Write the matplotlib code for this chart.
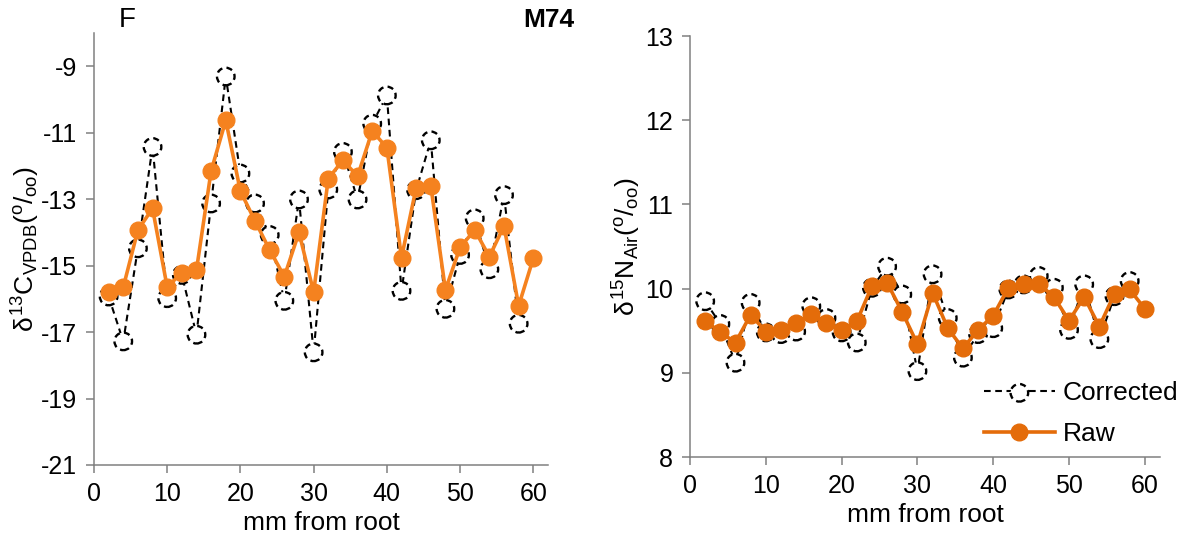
import numpy as np
import matplotlib
matplotlib.use("Agg")
import matplotlib.pyplot as plt
from matplotlib.legend_handler import HandlerTuple
from matplotlib.lines import Line2D

plt.rcParams['font.family'] = ['Liberation Sans', 'DejaVu Sans']
plt.rcParams['mathtext.fontset'] = 'custom'
plt.rcParams['mathtext.rm'] = 'Liberation Sans'
plt.rcParams['mathtext.it'] = 'Liberation Sans'
plt.rcParams['axes.unicode_minus'] = False

# sampling positions along the hair (mm from root)
mm = np.arange(2, 62, 2)

# carbon isotope values
c_raw = [-15.78, -15.65, -13.93, -13.28, -15.65, -15.21, -15.13, -12.15, -10.63, -12.76,
         -13.66, -14.53, -15.33, -14.00, -15.80, -12.38, -11.83, -12.31, -10.95, -11.45,
         -14.76, -12.66, -12.60, -15.73, -14.45, -13.93, -14.73, -13.81, -16.21, -14.78]
c_corr = [-15.93, -17.28, -14.48, -11.43, -15.98, -15.28, -17.08, -13.13, -9.31, -12.23,
          -13.13, -14.08, -16.06, -13.01, -17.61, -12.71, -11.58, -13.01, -10.73, -9.88,
          -15.76, -12.73, -11.23, -16.30, -14.68, -13.58, -15.11, -12.88, -16.75, np.nan]

# nitrogen isotope values
n_raw = [9.62, 9.48, 9.36, 9.69, 9.49, 9.51, 9.59, 9.70, 9.59, 9.51,
         9.61, 10.03, 10.07, 9.72, 9.34, 9.95, 9.53, 9.29, 9.51, 9.68,
         10.01, 10.06, 10.06, 9.90, 9.62, 9.90, 9.55, 9.94, 9.99, 9.76]
n_corr = [9.85, 9.58, 9.12, 9.83, 9.48, 9.46, 9.49, 9.79, 9.65, 9.48,
          9.36, 10.01, 10.26, 9.93, 9.02, 10.17, 9.65, 9.18, 9.46, 9.53,
          9.99, 10.05, 10.15, 10.01, 9.51, 10.05, 9.40, 9.91, 10.09, np.nan]

c_ticks = [-21, -19, -17, -15, -13, -11, -9]
n_ticks = [8, 9, 10, 11, 12, 13]
x_ticks = [0, 10, 20, 30, 40, 50, 60]

fig = plt.figure(figsize=(11.85, 5.39), dpi=100)
ax1 = fig.add_axes([0.0793, 0.1373, 0.3831, 0.8015])
ax2 = fig.add_axes([0.5823, 0.1521, 0.3966, 0.7811])


def draw_panel(ax, raw, corr, orange):
    corr = np.asarray(corr)
    ax.plot(mm, corr, color='black', ls=(0, (3.2, 2.2)), lw=1.5, zorder=2)
    ok = ~np.isnan(corr)
    sc = ax.scatter(mm[ok], corr[ok], s=160, facecolor='white', edgecolor='black',
                    linewidths=1.7, linestyle=(0, (2.6, 1.8)), zorder=3)
    ln, = ax.plot(mm, raw, color=orange, lw=2.6, marker='o', ms=12,
                  mec=orange, mfc=orange, zorder=4)
    ax.set_xlim(0, 62)
    ax.set_xticks(x_ticks)
    ax.set_xlabel('mm from root', fontsize=19, labelpad=4)
    for s in ['top', 'right']:
        ax.spines[s].set_visible(False)
    for s in ['left', 'bottom']:
        ax.spines[s].set_color('#808080')
        ax.spines[s].set_linewidth(1.1)
    ax.tick_params(direction='out', length=6, width=1.1, color='#808080',
                   labelsize=18, pad=6)
    return sc, ln


draw_panel(ax1, c_raw, c_corr, '#F5821F')
ax1.set_ylim(-21, -8)
ax1.set_yticks(c_ticks)
ax1.set_ylabel(r'$\delta^{13}\mathrm{C}_{\mathrm{VPDB}}(^{\mathrm{o}}/_{\mathrm{oo}})$',
               fontsize=19, labelpad=-1)
fig.text(127 / 1185, 1 - 20 / 539, 'F', fontsize=20, ha='center', va='center')
fig.text(574 / 1185, 1 - 20 / 539, 'M74', fontsize=19, fontweight='bold',
         ha='right', va='center')

sc, ln = draw_panel(ax2, n_raw, n_corr, '#E46C0A')
ax2.set_ylim(8, 13)
ax2.set_yticks(n_ticks)
ax2.set_ylabel(r'$\delta^{15}\mathrm{N}_{\mathrm{Air}}(^{\mathrm{o}}/_{\mathrm{oo}})$',
               fontsize=19, labelpad=2)

dash = Line2D([], [], color='black', ls=(0, (3.2, 2.2)), lw=1.5)
ax2.legend([(dash, sc), ln], ['Corrected', 'Raw'],
           handler_map={tuple: HandlerTuple(ndivide=1)},
           loc='lower right', bbox_to_anchor=(1.09, -0.03), frameon=False,
           fontsize=19, handlelength=2.7, labelspacing=0.65, handletextpad=0.3,
           scatterpoints=1)

fig.savefig('out.png', dpi=100)
